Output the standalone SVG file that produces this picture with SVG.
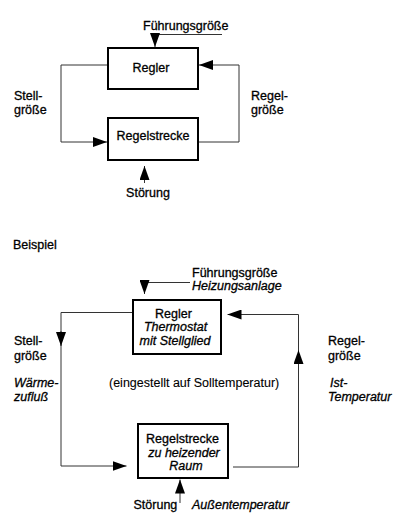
<svg xmlns="http://www.w3.org/2000/svg" width="408" height="522" viewBox="0 0 408 522">
<style>
text{font-family:"Liberation Sans",Arial,sans-serif;font-size:12.5px;fill:#000;stroke:#000;stroke-width:0.3}
.i{font-style:italic}
.m{text-anchor:middle}
.box{fill:#fff;stroke:#000;stroke-width:2}
.ln{fill:none;stroke:#333;stroke-width:1}
</style>
<defs>
<marker id="ah" markerUnits="userSpaceOnUse" markerWidth="14" markerHeight="10" refX="14" refY="5" orient="auto">
<path d="M0,0 L14,5 L0,10 z" fill="#000"/>
</marker>
</defs>
<rect width="408" height="522" fill="#fff"/>
<g id="connectors">
<path class="ln" d="M222,34.5 H155 V47" marker-end="url(#ah)"/>
<path class="ln" d="M108,65 H61 V142 H107" marker-end="url(#ah)"/>
<path class="ln" d="M198,142 H239 V65 H199" marker-end="url(#ah)"/>
<path class="ln" d="M144.5,183 V166" marker-end="url(#ah)"/>
<path class="ln" d="M190,282.5 H144.5 V294" marker-end="url(#ah)"/>
<path class="ln" d="M132,312.5 H61 V466 H126.5" marker-end="url(#ah)"/>
<path class="ln" d="M61,331 V346" marker-end="url(#ah)"/>
<path class="ln" d="M233,467 H298.5 V314.5 H227.5" marker-end="url(#ah)"/>
<path class="ln" d="M298.5,365 V350" marker-end="url(#ah)"/>
<path class="ln" d="M180,503 V479.5" marker-end="url(#ah)"/>
</g>
<g id="regler1">
<rect class="box" x="108" y="48" width="90" height="41"/>
<text class="m" x="151" y="72">Regler</text>
</g>
<g id="strecke1">
<rect class="box" x="108" y="118" width="90" height="42"/>
<text class="m" x="153" y="140">Regelstrecke</text>
</g>
<g id="labels1">
<text x="143" y="29.5">Führungsgröße</text>
<text x="14" y="100">Stell-</text>
<text x="14" y="113.5">größe</text>
<text x="251" y="100">Regel-</text>
<text x="251" y="113.5">größe</text>
<text class="m" x="148" y="197">Störung</text>
</g>
<text x="13" y="248.5">Beispiel</text>
<g id="regler2">
<rect class="box" x="133" y="300" width="88" height="54"/>
<text class="m" x="173.5" y="317.5">Regler</text>
<text class="m i" x="175.5" y="331">Thermostat</text>
<text class="m i" x="175" y="344.5">mit Stellglied</text>
</g>
<g id="strecke2">
<rect class="box" x="138" y="424" width="90" height="54"/>
<text class="m" x="182.5" y="443">Regelstrecke</text>
<text class="m i" x="184" y="456.5">zu heizender</text>
<text class="m i" x="186" y="470">Raum</text>
</g>
<g id="labels2">
<text x="192" y="277">Führungsgröße</text>
<text class="i" x="192" y="289.5">Heizungsanlage</text>
<text x="14" y="345">Stell-</text>
<text x="14" y="359.5">größe</text>
<text class="i" x="14" y="387">Wärme-</text>
<text class="i" x="14" y="401">zufluß</text>
<text x="109" y="387" style="stroke-width:0.1">(eingestellt auf Solltemperatur)</text>
<text x="328" y="345">Regel-</text>
<text x="328" y="359.5">größe</text>
<text class="i" x="330" y="387">Ist-</text>
<text class="i" x="328" y="401">Temperatur</text>
<text x="133.5" y="508.5">Störung</text>
<text class="i" x="192" y="508.5">Außentemperatur</text>
</g>
</svg>
